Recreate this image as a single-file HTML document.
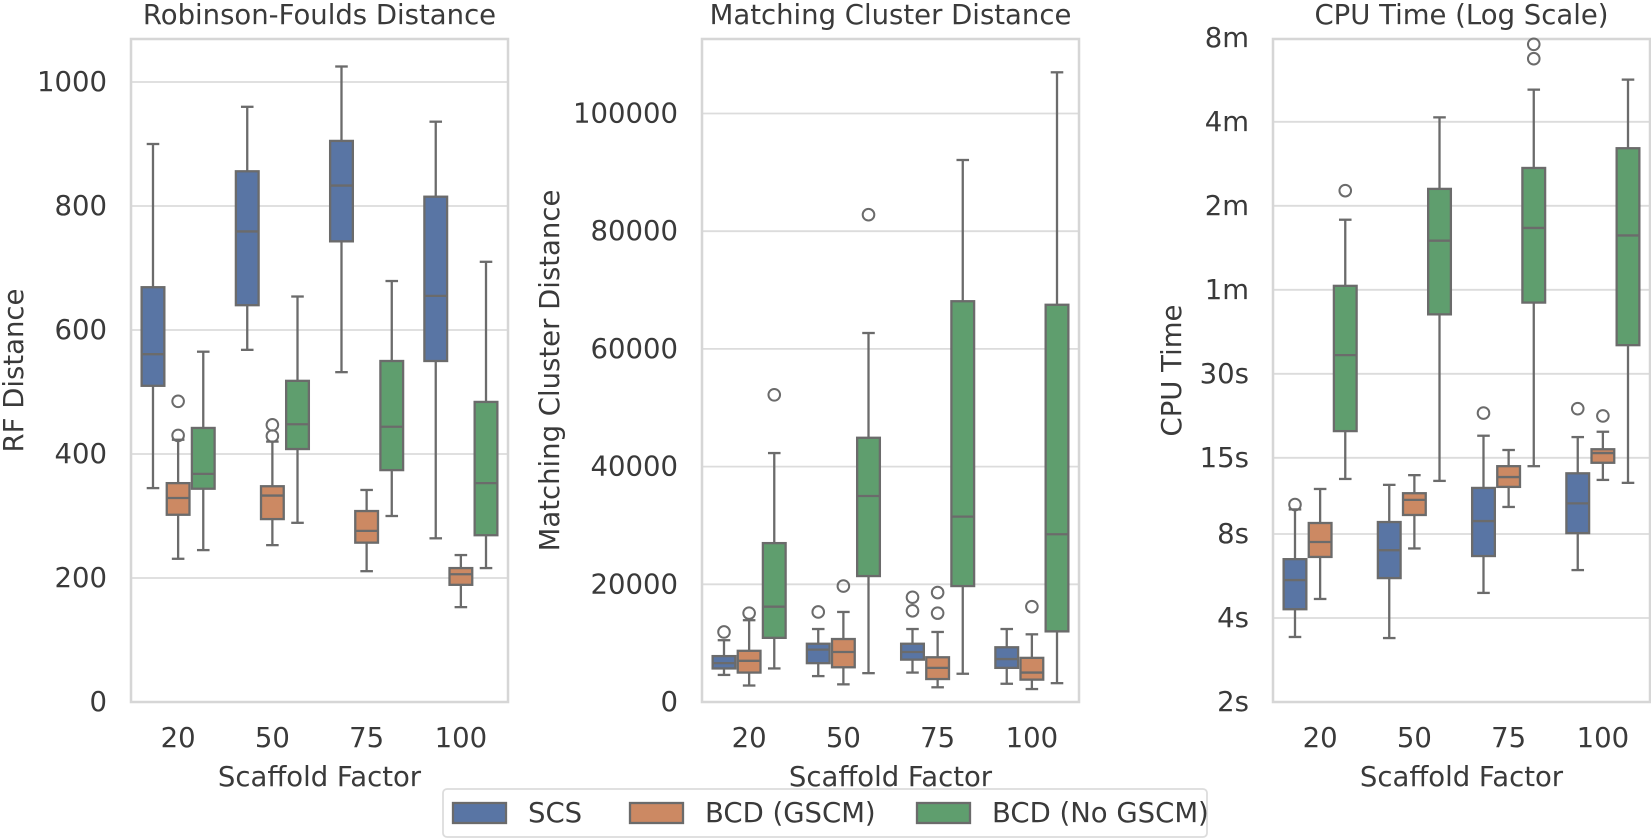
<!DOCTYPE html>
<html><head><meta charset="utf-8"><style>
html,body{margin:0;padding:0;background:#fff;}
svg{display:block;font-family:"DejaVu Sans","Liberation Sans",sans-serif;}
</style></head><body>
<svg id="fig" width="1651" height="839" viewBox="0 0 1651 839" xmlns="http://www.w3.org/2000/svg"></svg>
<script>
const categories = ["20","50","75","100"];
const seriesNames = ["SCS","BCD (GSCM)","BCD (No GSCM)"];
const seriesColors = ["#5975a4","#cc8963","#5f9e6e"];

// [lowWhisker, Q1, median, Q3, highWhisker] per category
const rfScs   = [[345,510,561,669,900],[568,640,759,856,960],[532,743,833,905,1025],[264,550,655,815,936]];
const rfGscm  = [[231,302,329,353,423],[253,295,333,348,420],[211,257,276,308,342],[153,189,206,216,237]];
const rfNoGscm= [[245,344,368,442,565],[289,408,448,518,654],[300,374,444,550,679],[216,269,353,484,710]];
const rfOutScs = [[],[],[],[]];
const rfOutGscm = [[485,430],[447,429],[],[]];
const rfOutNoGscm = [[],[],[],[]];
const rfTicks = [0,200,400,600,800,1000];

const mcScs   = [[4600,5700,6600,7800,10500],[4400,6600,8900,9900,12400],[5000,7200,8500,9900,12400],[3100,5800,7300,9300,12400]];
const mcGscm  = [[2800,5000,7000,8700,13900],[3000,5900,8500,10700,15300],[2500,3900,5800,7600,11900],[2200,3800,5000,7500,11500]];
const mcNoGscm= [[5700,10900,16200,27000,42300],[4900,21400,35000,44900,62700],[4800,19700,31500,68100,92100],[3200,12000,28500,67500,107000]];
const mcOutScs = [[11900],[15300],[17800,15500],[]];
const mcOutGscm = [[15100],[19700],[18600,15100],[16200]];
const mcOutNoGscm = [[52200],[82800],[],[]];
const mcTicks = [0,20000,40000,60000,80000,100000];

// seconds
const cpuScs   = [[3.42,4.3,5.47,6.5,9.8],[3.39,5.56,7.0,8.83,12],[4.92,6.67,8.9,11.7,18],[5.94,8.06,10.3,13.2,17.8]];
const cpuGscm  = [[4.68,6.62,7.49,8.76,11.6],[7.1,9.36,10.6,11.2,13],[10,11.8,12.8,14,16],[12.5,14.4,15.6,16.1,18.6]];
const cpuNoGscm= [[12.6,18.7,35,62,107],[12.4,49,90,138,249],[14,54,100,164,313],[12.2,38,94,193,340]];
const cpuOutScs = [[10.2],[],[21.7],[22.5]];
const cpuOutGscm = [[],[],[],[21.2]];
const cpuOutNoGscm = [[136],[],[455,404],[]];
const cpuTickVals = [2,4,8,15,30,60,120,240,480];
const cpuTickLabels = ["2s","4s","8s","15s","30s","1m","2m","4m","8m"];

const NS="http://www.w3.org/2000/svg";
const svg=document.getElementById('fig');
const EDGE="#6b6b6b", TXT="#3a3a3a", FS=27.5;
function mk(tag,attrs,parent){const e=document.createElementNS(NS,tag);for(const k in attrs)e.setAttribute(k,attrs[k]);(parent||svg).appendChild(e);return e;}
function txt(s,x,y,anchor,size,parent,rot){const e=mk('text',{x:x,y:y,'text-anchor':anchor,'dominant-baseline':'central','font-size':size,fill:TXT},parent);if(rot)e.setAttribute('transform','rotate(-90 '+x+' '+y+')');e.textContent=s;return e;}

const TOP=39,BOT=702,W=377;
function panel(opts){
  const g=mk('g',{});
  
  
  const L=opts.left,R=L+W;
  const yf=opts.y;
  opts.ticks.forEach((v,i)=>{
    const y=yf(v);
    if(y>TOP+1&&y<BOT-1){const gl=mk('line',{x1:L,x2:R,y1:y,y2:y,stroke:'#dcdcdc','stroke-width':1.8},g);
      }
    const t=txt(opts.labels[i],L-24,y,'end',FS,g);
    
  });
  const fr=mk('rect',{x:L,y:TOP,width:W,height:BOT-TOP,fill:'none',stroke:'#d6d6d6','stroke-width':2.5},g);
  
  const step=W/categories.length;
  const bw=step*0.8/3;
  categories.forEach((c,ci)=>{
    const cx=L+step*(ci+0.5);
    const tl=txt(c,cx,738,'middle',FS,g);
    
    opts.series.forEach((s,si)=>{
      const st=s[ci];
      const x=cx+(si-1)*bw;
      const bg=mk('g',{},g);
      
      
      const yl=yf(st[0]),yq1=yf(st[1]),ym=yf(st[2]),yq3=yf(st[3]),yh=yf(st[4]);
      mk('line',{x1:x,x2:x,y1:yq3,y2:yh,stroke:EDGE,'stroke-width':2.3},bg);
      mk('line',{x1:x,x2:x,y1:yq1,y2:yl,stroke:EDGE,'stroke-width':2.3},bg);
      mk('line',{x1:x-bw/4,x2:x+bw/4,y1:yh,y2:yh,stroke:EDGE,'stroke-width':2.3},bg);
      mk('line',{x1:x-bw/4,x2:x+bw/4,y1:yl,y2:yl,stroke:EDGE,'stroke-width':2.3},bg);
      mk('rect',{x:x-bw/2+1.2,y:yq3,width:bw-2.4,height:Math.max(0.5,yq1-yq3),fill:seriesColors[si],stroke:EDGE,'stroke-width':2.3},bg);
      mk('line',{x1:x-bw/2+1.2,x2:x+bw/2-1.2,y1:ym,y2:ym,stroke:EDGE,'stroke-width':2.3},bg);
      opts.outliers[si][ci].forEach(v=>{
        const o=mk('circle',{cx:x,cy:yf(v),r:5.8,fill:'none',stroke:EDGE,'stroke-width':2},bg);
        
        
      });
    });
  });
  const ti=txt(opts.title,L+W/2,15,'middle',FS,g);
  
  const xl=txt('Scaffold Factor',L+W/2,777,'middle',FS,g);
  
  const yl=txt(opts.ylabel,opts.ylx,(TOP+BOT)/2,'middle',FS,g,true);
  
}

panel({name:'rf-distance-panel',left:131,title:'Robinson-Foulds Distance',ylabel:'RF Distance',ylx:14,
  y:v=>BOT-v*0.62,ticks:rfTicks,labels:rfTicks.map(String),
  series:[rfScs,rfGscm,rfNoGscm],outliers:[rfOutScs,rfOutGscm,rfOutNoGscm]});
panel({name:'matching-cluster-panel',left:702,title:'Matching Cluster Distance',ylabel:'Matching Cluster Distance',ylx:550,
  y:v=>BOT-v*0.005885,ticks:mcTicks,labels:mcTicks.map(String),
  series:[mcScs,mcGscm,mcNoGscm],outliers:[mcOutScs,mcOutGscm,mcOutNoGscm]});
panel({name:'cpu-time-panel',left:1273,title:'CPU Time (Log Scale)',ylabel:'CPU Time',ylx:1172,
  y:v=>BOT-84*Math.log2(v/2),ticks:cpuTickVals,labels:cpuTickLabels,
  series:[cpuScs,cpuGscm,cpuNoGscm],outliers:[cpuOutScs,cpuOutGscm,cpuOutNoGscm]});

const lg=mk('g',{});


mk('rect',{x:443,y:789,width:764,height:48,rx:4,fill:'#fff',stroke:'#dcdcdc','stroke-width':1.8},lg);
const patchX=[453,630,917], textX=[528,705,992];
seriesNames.forEach((n,i)=>{
  const e=mk('g',{},lg);
  
  
  mk('rect',{x:patchX[i],y:803,width:53,height:20,fill:seriesColors[i],stroke:EDGE,'stroke-width':2.3},e);
  txt(n,textX[i],813,'start',FS,e);
});
</script>
</body></html>
